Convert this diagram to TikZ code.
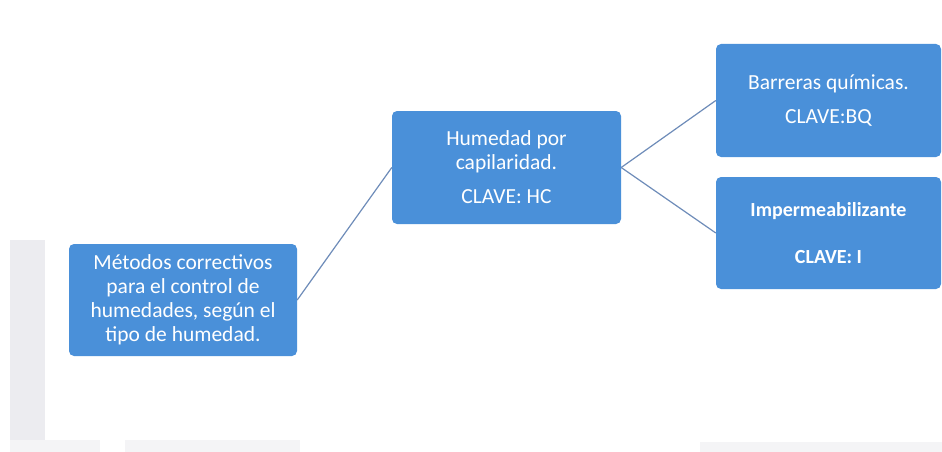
\documentclass[tikz,border=0pt]{standalone}
\usepackage{fontspec}
\setmainfont{Carlito}
\definecolor{boxblue}{RGB}{74,144,217}
\definecolor{linecol}{RGB}{110,140,185}
\definecolor{barcol}{RGB}{236,236,240}
\begin{document}
\begin{tikzpicture}[x=1pt,y=-1pt,
  box/.style={draw=none,fill=boxblue,rounded corners=5pt,text=white,align=center,
    font=\fontsize{21.5}{24}\selectfont,inner sep=0pt},
  conn/.style={draw=linecol,line width=1.2pt}]
\useasboundingbox (0,0) rectangle (942,452);
\fill[white] (0,0) rectangle (942,452);
% faint background bars
\fill[barcol] (10,240) rectangle (45,440);
\fill[barcol!60] (10,440) rectangle (100,452);
\fill[barcol!60] (125,440) rectangle (300,452);
\fill[barcol!60] (700,442) rectangle (942,452);
% boxes
\node[box,minimum width=228pt,minimum height=112pt] (A) at (183,300)
  {Métodos correctivos\\para el control de\\humedades, según el\\tipo de humedad.};
\node[box,minimum width=229pt,minimum height=113pt] (B) at (506.5,167.5)
  {Humedad por\\capilaridad.\\[10pt]CLAVE: HC};
\node[box,minimum width=225pt,minimum height=113pt] (C) at (828.5,100.5)
  {Barreras químicas.\\[10pt]CLAVE:BQ};
\node[box,minimum width=225pt,minimum height=112pt,font=\fontsize{20}{24}\selectfont\bfseries] (D) at (828.5,233)
  {Impermeabilizante\\[23pt]CLAVE: I};
% connectors
\draw[conn] (A.east) -- (B.west);
\draw[conn] (B.east) -- (C.west);
\draw[conn] (B.east) -- (D.west);
\end{tikzpicture}
\end{document}
